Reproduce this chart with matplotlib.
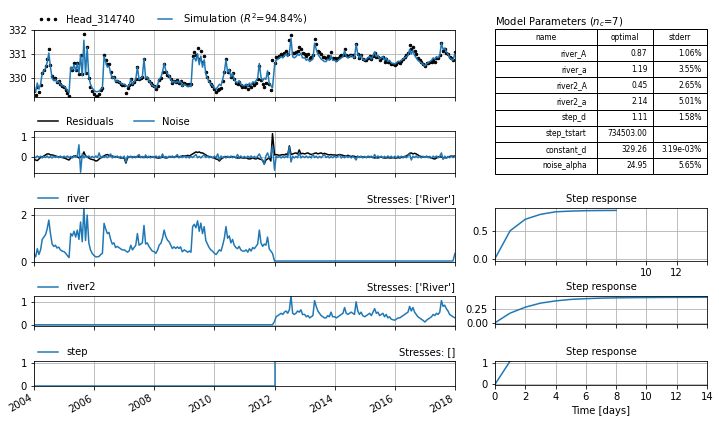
import numpy as np
import pandas as pd
import matplotlib
matplotlib.use('Agg')
import matplotlib.pyplot as plt

# contribution of the river stress, 18 values per year (about every 20 days)
river_2004 = [0.35, 0.2, 0.55, 0.3, 0.5, 0.95, 1.05, 1.15, 1.4, 1.78, 1.2, 0.75, 0.65, 0.7, 0.58, 0.62, 0.5, 0.45]
river_2005 = [0.42, 0.35, 0.25, 0.17, 1.2, 1.1, 1.3, 1.05, 1.35, 0.95, 1.7, 0.85, 2.3, 0.9, 2.0, 0.8, 0.5, 0.35]
river_2006 = [0.25, 0.2, 0.2, 0.22, 0.3, 0.35, 1.64, 1.4, 1.2, 1.25, 0.95, 0.75, 0.8, 0.6, 0.65, 0.6, 0.55, 0.5]
river_2007 = [0.5, 0.45, 0.4, 0.45, 0.7, 0.5, 0.6, 0.7, 1.2, 0.7, 0.75, 0.8, 1.55, 0.75, 0.8, 0.65, 0.55, 0.45]
river_2008 = [0.42, 0.35, 0.49, 0.71, 0.78, 1.0, 1.35, 1.07, 0.92, 0.85, 0.71, 0.56, 0.63, 0.56, 0.63, 0.56, 0.63, 0.42]
river_2009 = [0.5, 0.45, 0.4, 0.45, 0.4, 1.5, 1.6, 1.45, 1.75, 1.3, 1.65, 1.2, 1.5, 0.9, 0.75, 0.6, 0.5, 0.45]
river_2010 = [0.35, 0.3, 0.4, 0.5, 0.45, 0.7, 1.0, 1.5, 1.0, 1.1, 0.8, 0.95, 0.7, 0.6, 0.55, 0.65, 0.5, 0.45]
river_2011 = [0.45, 0.5, 0.4, 0.55, 0.45, 0.6, 0.55, 0.65, 0.75, 1.35, 0.8, 0.65, 0.75, 0.7, 1.05, 0.55, 0.45, 0.35]
river_after = 0.02
river_end = 0.35

# contribution of river2, only from 2012 on
river2_2012 = [0.15, 0.35, 0.4, 0.45, 0.5, 0.45, 0.55, 0.6, 0.5, 0.65, 1.25, 0.5, 0.45, 0.5, 0.6, 0.55, 0.65, 0.45]
river2_2013 = [0.45, 0.35, 0.4, 0.3, 0.35, 0.4, 1.05, 0.8, 0.6, 0.5, 0.4, 0.35, 0.3, 0.3, 0.4, 0.35, 0.55, 0.35]
river2_2014 = [0.35, 0.3, 0.35, 0.4, 0.45, 0.5, 0.75, 0.5, 0.45, 0.5, 0.55, 0.5, 0.45, 1.0, 0.6, 0.45, 0.55, 0.4]
river2_2015 = [0.35, 0.4, 0.45, 0.5, 0.4, 0.55, 0.7, 0.5, 0.55, 0.4, 0.45, 0.5, 0.35, 0.45, 0.3, 0.35, 0.25, 0.22]
river2_2016 = [0.2, 0.25, 0.3, 0.3, 0.35, 0.4, 0.45, 0.5, 0.55, 0.8, 0.6, 0.75, 0.55, 0.45, 0.35, 0.3, 0.25, 0.2]
river2_2017 = [0.12, 0.2, 0.25, 0.3, 0.35, 0.45, 0.4, 0.5, 0.45, 0.55, 1.05, 0.8, 0.85, 0.7, 0.6, 0.45, 0.4, 0.35]
river2_end = 0.3

# residuals (observed - simulated)
res_2004 = [-0.12, -0.15, -0.18, -0.1, -0.02, 0.0, 0.05, 0.1, 0.15, 0.15, 0.1, 0.1, 0.08, 0.05, 0.02, 0.0, 0.0, -0.02]
res_2005 = [-0.05, -0.08, -0.12, -0.15, -0.05, 0.0, 0.05, 0.05, 0.02, -0.05, 0.0, 0.05, 0.25, 0.05, 0.02, -0.05, -0.1, -0.12]
res_2006 = [-0.15, -0.2, -0.18, -0.1, -0.05, 0.0, 0.05, 0.1, 0.12, 0.08, 0.05, 0.05, 0.0, 0.02, 0.0, -0.02, -0.05, -0.05]
res_2007 = [-0.05, -0.3, -0.05, 0.0, 0.02, 0.0, -0.02, 0.0, 0.02, 0.0, 0.0, -0.02, 0.0, 0.0, -0.03, 0.0, 0.02, 0.0]
res_2008 = [0.0, -0.03, -0.05, -0.05, -0.03, 0.0, -0.02, -0.05, -0.03, 0.0, 0.02, 0.0, 0.0, 0.02, 0.03, 0.0, 0.02, 0.05]
res_2009 = [0.05, 0.05, 0.08, 0.05, 0.1, 0.15, 0.2, 0.25, 0.22, 0.25, 0.2, 0.2, 0.15, 0.1, 0.05, 0.02, 0.0, -0.02]
res_2010 = [-0.05, -0.1, -0.12, -0.2, -0.1, -0.05, 0.0, 0.02, 0.0, -0.02, 0.0, 0.02, 0.0, -0.03, -0.05, -0.05, -0.03, -0.05]
res_2011 = [-0.05, -0.05, -0.08, -0.1, -0.08, -0.05, -0.08, -0.1, -0.05, -0.1, -0.12, -0.15, -0.35, -0.15, -0.1, -0.05, -0.2, 1.15]
res_2012 = [0.1, 0.12, 0.1, 0.08, 0.1, 0.12, 0.1, 0.15, 0.1, 0.55, 0.12, 0.15, 0.18, 0.2, 0.15, 0.35, 0.15, 0.18]
res_2013 = [0.15, 0.18, 0.2, 0.15, 0.12, 0.15, 0.18, 0.2, 0.15, 0.18, 0.2, 0.15, 0.18, 0.15, 0.12, 0.1, 0.12, 0.1]
res_2014 = [0.1, 0.08, 0.1, 0.12, 0.1, 0.08, 0.05, 0.05, 0.08, 0.05, 0.02, 0.05, 0.03, 0.0, 0.02, 0.0, 0.02, 0.0]
res_2015 = [0.0, -0.02, 0.0, 0.02, 0.0, -0.02, -0.05, -0.03, -0.05, -0.02, 0.0, -0.03, -0.05, -0.05, -0.03, -0.05, -0.05, -0.03]
res_2016 = [-0.05, -0.05, -0.03, -0.05, -0.02, 0.0, 0.02, 0.05, 0.1, 0.18, 0.2, 0.15, 0.18, 0.15, 0.1, 0.05, 0.02, 0.0]
res_2017 = [0.0, 0.02, 0.0, -0.03, -0.05, -0.08, -0.1, -0.05, 0.0, 0.02, 0.0, -0.05, -0.03, -0.05, 0.0, 0.02, 0.05, 0.03]
res_end = 0.05

# noise model
noise_2004 = [0.03, -0.04, 0.05, -0.02, 0.04, -0.05, 0.03, -0.03, 0.05, -0.04, 0.02, -0.05, 0.04, -0.02, 0.03, -0.04, 0.05, -0.03]
noise_2005 = [0.04, -0.03, 0.05, -0.04, 0.03, -0.05, 0.04, -0.02, 0.05, 0.6, -0.75, 0.15, -0.05, 0.04, -0.03, 0.05, -0.04, 0.03]
noise_2006 = [-0.04, 0.05, -0.03, 0.2, -0.05, 0.04, -0.03, 0.05, -0.04, 0.03, 0.15, -0.05, 0.04, -0.03, 0.05, -0.04, 0.03, -0.05]
noise_2007 = [0.04, -0.25, 0.05, -0.03, 0.04, -0.05, 0.03, -0.04, 0.05, 0.12, -0.04, 0.03, -0.05, 0.1, -0.03, 0.04, -0.05, 0.03]
noise_2008 = [-0.04, 0.05, -0.03, 0.04, -0.05, 0.15, -0.04, 0.03, -0.05, 0.04, -0.03, 0.05, -0.04, 0.03, 0.12, -0.05, 0.04, -0.03]
noise_2009 = [0.05, -0.04, 0.03, -0.05, 0.04, -0.03, 0.05, 0.12, -0.04, 0.03, -0.05, 0.04, 0.1, -0.03, 0.05, -0.04, 0.03, -0.05]
noise_2010 = [0.04, -0.03, 0.15, -0.15, 0.05, -0.04, 0.03, -0.05, 0.04, -0.03, 0.05, -0.04, 0.03, -0.05, 0.12, -0.03, 0.05, -0.04]
noise_2011 = [0.03, -0.05, 0.04, -0.03, 0.05, -0.04, 0.03, -0.05, 0.04, 0.15, -0.03, -0.2, -0.35, 0.05, 0.2, -0.04, 0.05, 0.55]
noise_2012 = [-0.65, 0.05, -0.03, 0.04, -0.05, 0.03, -0.04, 0.05, -0.03, 0.5, -0.25, 0.04, -0.05, 0.03, -0.04, 0.2, -0.05, 0.04]
noise_2013 = [-0.03, 0.05, -0.04, 0.03, -0.05, 0.15, -0.03, 0.04, -0.05, 0.03, -0.04, 0.05, 0.12, -0.03, 0.04, -0.05, 0.03, -0.04]
noise_2014 = [0.05, -0.03, 0.04, 0.1, -0.05, 0.03, -0.04, 0.05, -0.03, 0.04, -0.05, 0.03, -0.04, -0.15, 0.05, -0.03, 0.04, -0.05]
noise_2015 = [0.03, -0.04, 0.05, -0.03, 0.04, -0.05, 0.12, -0.04, 0.05, -0.03, 0.04, -0.05, 0.03, -0.04, 0.05, -0.03, 0.04, -0.05]
noise_2016 = [0.03, -0.04, 0.05, -0.03, 0.04, -0.05, 0.03, -0.04, 0.05, 0.15, -0.15, 0.04, -0.03, 0.05, -0.04, 0.03, -0.05, 0.04]
noise_2017 = [-0.03, 0.05, -0.04, 0.03, -0.05, 0.04, -0.03, 0.05, -0.04, 0.03, 0.2, -0.12, 0.04, -0.05, 0.03, -0.04, 0.05, -0.03]
noise_end = 0.02

# model parameters
param_names = ['river_A', 'river_a', 'river2_A', 'river2_a', 'step_d', 'step_tstart', 'constant_d', 'noise_alpha']
param_optimal = [0.87, 1.19, 0.45, 2.14, 1.11, 734503.00, 329.26, 24.95]
param_stderr = ['1.06%', '3.55%', '2.65%', '5.01%', '1.58%', '', '3.19e-03%', '5.65%']
constant_d = 329.26
step_d = 1.11
step_start = '2012-01-01'

# step responses
sr_river_t = [0, 1, 2, 3, 4, 5, 6, 7, 8]
sr_river = [0, 0.5, 0.706, 0.794, 0.84, 0.853, 0.86, 0.863, 0.865]
sr_river2_t = [0, 1, 2, 3, 4, 5, 6, 7, 8, 9, 10, 11, 12, 13, 14]
sr_river2 = [0, 0.172, 0.278, 0.35, 0.39, 0.417, 0.43, 0.44, 0.445, 0.448, 0.45, 0.452, 0.453, 0.454, 0.455]
sr_step_t = [0, 1]
sr_step = [0, step_d]

years = list(range(2004, 2018))


def main():
#     time index: 18 samples per year + the closing date
    dates = []
    for yr in years:
        dates.extend(pd.date_range('%d-01-01' % yr, periods=18, freq='20D'))
    dates.append(pd.Timestamp('2018-01-01'))
    dates = pd.DatetimeIndex(dates)

    river_years = [river_2004, river_2005, river_2006, river_2007, river_2008, river_2009, river_2010, river_2011]
    river = sum(river_years, []) + [river_after] * 18 * 6 + [river_end]
    river2_years = [river2_2012, river2_2013, river2_2014, river2_2015, river2_2016, river2_2017]
    river2 = [0.0] * 18 * 8 + sum(river2_years, []) + [river2_end]
    res = sum([res_2004, res_2005, res_2006, res_2007, res_2008, res_2009, res_2010, res_2011,
               res_2012, res_2013, res_2014, res_2015, res_2016, res_2017], []) + [res_end]
    noise = sum([noise_2004, noise_2005, noise_2006, noise_2007, noise_2008, noise_2009, noise_2010,
                 noise_2011, noise_2012, noise_2013, noise_2014, noise_2015, noise_2016, noise_2017], []) + [noise_end]

    river = pd.Series(river, index=dates)
    river2 = pd.Series(river2, index=dates)
    step = pd.Series(np.where(dates >= pd.Timestamp(step_start), step_d, 0.0), index=dates)
    res = pd.Series(res, index=dates)
    noise = pd.Series(noise, index=dates)

    sim = constant_d + river + river2 + step
    obs = sim + res

    fig = plt.figure(figsize=(719 / 72, 424 / 72), dpi=72)
    xl = 34 / 719
    xw = 421 / 719
    xr = 495 / 719
    xrw = 212 / 719

    def box(x0, w, top, bottom):
        return [x0, 1 - bottom / 424, w, (bottom - top) / 424]

    ax1 = fig.add_axes(box(xl, xw, 29.5, 96.5))
    ax2 = fig.add_axes(box(xl, xw, 131, 173))
    ax3 = fig.add_axes(box(xl, xw, 208, 261.5))
    ax4 = fig.add_axes(box(xl, xw, 296, 325.5))
    ax5 = fig.add_axes(box(xl, xw, 361, 386))
    left_axes = [ax1, ax2, ax3, ax4, ax5]

#     observations and simulation
    ax1.plot(obs.index, obs.values, linestyle='', marker='.', markersize=5, color='k', label='Head_314740')
    ax1.plot(sim.index, sim.values, color='C0', label='Simulation ($R^2$=94.84%)')
    ax1.set_ylim(obs.min(), obs.max())
    ax1.set_yticks([330, 331, 332])
    ax1.legend(loc=(0, 1), ncol=3, frameon=False, numpoints=3)

#     residuals and noise
    ax2.plot(res.index, res.values, color='k', label='Residuals')
    ax2.plot(noise.index, noise.values, color='C0', label='Noise')
    ax2.set_ylim(-0.79, 1.28)
    ax2.set_yticks([0, 1])
    ax2.legend(loc=(0, 1), ncol=3, frameon=False)

#     contributions
    ax3.plot(river.index, river.values, color='C0', label='river')
    ax3.set_ylim(0, river.max())
    ax3.set_yticks([0, 2])
    ax3.legend(loc=(0, 1), ncol=3, frameon=False)
    ax3.set_title("Stresses: ['River']", loc='right', fontsize=10)

    ax4.plot(river2.index, river2.values, color='C0', label='river2')
    ax4.set_ylim(-0.03, river2.max())
    ax4.set_yticks([0, 1])
    ax4.legend(loc=(0, 1), ncol=3, frameon=False)
    ax4.set_title("Stresses: ['River']", loc='right', fontsize=10)

    ax5.plot(step.index, step.values, color='C0', label='step', drawstyle='steps-post')
    ax5.set_ylim(step.min(), step.max())
    ax5.set_yticks([0, 1])
    ax5.legend(loc=(0, 1), ncol=3, frameon=False)
    ax5.set_title('Stresses: []', loc='right', fontsize=10)

    xticks = [pd.Timestamp('%d-01-01' % y) for y in range(2004, 2019, 2)]
    for ax in left_axes:
        ax.set_xlim(pd.Timestamp('2004-01-01'), pd.Timestamp('2018-01-01'))
        ax.set_xticks(xticks)
        ax.grid(True)
        if ax is not ax5:
            ax.set_xticklabels([])
    ax5.set_xticklabels([t.year for t in xticks], rotation=30, ha='right')

#     step responses
    r1 = fig.add_axes(box(xr, xrw, 208, 261))
    r2 = fig.add_axes(box(xr, xrw, 296, 324))
    r3 = fig.add_axes(box(xr, xrw, 361, 385))
    r1.plot(sr_river_t, sr_river, color='C0')
    r2.plot(sr_river2_t, sr_river2, color='C0')
    r3.plot(sr_step_t, sr_step, color='C0')
    r1.set_yticks([0.0, 0.5])
    r2.set_yticks([0.0, 0.25])
    r3.set_yticks([0, 1])
    r3.set_ylim(-0.03, step_d)
    for ax in [r1, r2, r3]:
        ax.set_xlim(0, 14)
        ax.set_xticks(range(0, 15, 2))
        ax.grid(True)
        ax.set_title('Step response', fontsize=10)
    r1.set_xticklabels(['', '', '', '', '', '10', '12', ''])
    r2.set_xticklabels([])
    r3.set_xlabel('Time [days]')

#     parameter table
    tab_ax = fig.add_axes(box(xr, xrw, 29, 174))
    tab_ax.axis('off')
    cells = [[n, '%.2f' % v, s] for n, v, s in zip(param_names, param_optimal, param_stderr)]
    tab = tab_ax.table(cellText=cells, colLabels=['name', 'optimal', 'stderr'], cellLoc='right',
                       colLoc='center', colWidths=[0.481, 0.264, 0.255], bbox=[0, 0, 1, 1])
    tab.auto_set_font_size(False)
    tab.set_fontsize(7.5)
    tab_ax.set_title('Model Parameters ($n_c$=7)', loc='left', pad=4, fontsize=10)

    fig.savefig('out.png', dpi=72)


if __name__ == '__main__':
    main()
